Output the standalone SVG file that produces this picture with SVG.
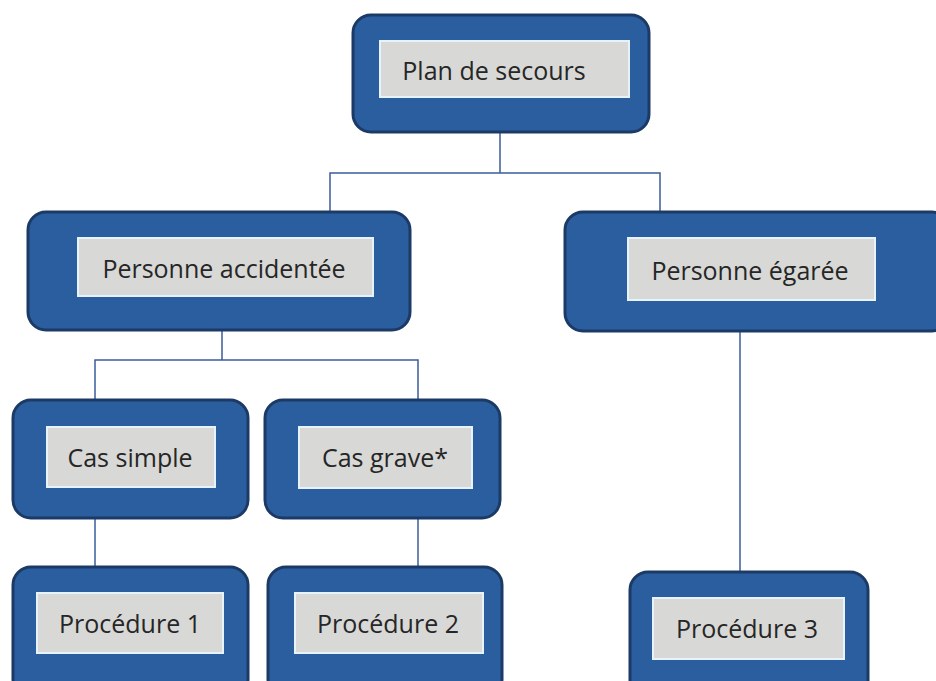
<svg xmlns="http://www.w3.org/2000/svg" width="936" height="681" viewBox="0 0 936 681">
<style>
.outer{fill:#2b5e9e;stroke:#1c3a66;stroke-width:3}
.inner{fill:#d8d8d6;stroke:#e6f3fb;stroke-width:2}
.lbl{font-family:"Open Sans","Liberation Sans",sans-serif;font-size:25px;fill:#262626;text-anchor:middle;dominant-baseline:central}
.conn{fill:none;stroke:#3b5c9c;stroke-width:1.5}
</style>
<rect width="936" height="681" fill="#ffffff"/>
<g id="connectors">
<path class="conn" d="M500,132 V173 M330,212 V173 H660 V212"/>
<path class="conn" d="M222,330 V360 M95,400 V360 H418 V400"/>
<path class="conn" d="M95,518 V567"/>
<path class="conn" d="M418,518 V567"/>
<path class="conn" d="M740,331 V572"/>
</g>
<g id="plan">
<rect class="outer" x="353" y="15" width="296" height="117" rx="18"/>
<rect class="inner" x="380" y="41" width="249" height="56"/>
<text class="lbl" x="494" y="70">Plan de secours</text>
</g>
<g id="accidentee">
<rect class="outer" x="28" y="212" width="382" height="118" rx="18"/>
<rect class="inner" x="78" y="238" width="295" height="58"/>
<text class="lbl" x="224" y="268">Personne accidentée</text>
</g>
<g id="egaree">
<rect class="outer" x="565" y="212" width="385" height="119" rx="18"/>
<rect class="inner" x="628" y="238" width="247" height="62"/>
<text class="lbl" x="750" y="270">Personne égarée</text>
</g>
<g id="simple">
<rect class="outer" x="13" y="400" width="235" height="118" rx="18"/>
<rect class="inner" x="47" y="427" width="168" height="60"/>
<text class="lbl" x="130" y="457">Cas simple</text>
</g>
<g id="grave">
<rect class="outer" x="265" y="400" width="235" height="118" rx="18"/>
<rect class="inner" x="299" y="427" width="173" height="61"/>
<text class="lbl" x="385" y="457">Cas grave*</text>
</g>
<g id="proc1">
<rect class="outer" x="13" y="567" width="235" height="130" rx="18"/>
<rect class="inner" x="37" y="593" width="186" height="60"/>
<text class="lbl" x="130" y="623">Procédure 1</text>
</g>
<g id="proc2">
<rect class="outer" x="268" y="567" width="234" height="130" rx="18"/>
<rect class="inner" x="295" y="593" width="188" height="60"/>
<text class="lbl" x="388" y="623">Procédure 2</text>
</g>
<g id="proc3">
<rect class="outer" x="630" y="572" width="238" height="130" rx="18"/>
<rect class="inner" x="653" y="598" width="191" height="61"/>
<text class="lbl" x="747" y="628">Procédure 3</text>
</g>
</svg>
